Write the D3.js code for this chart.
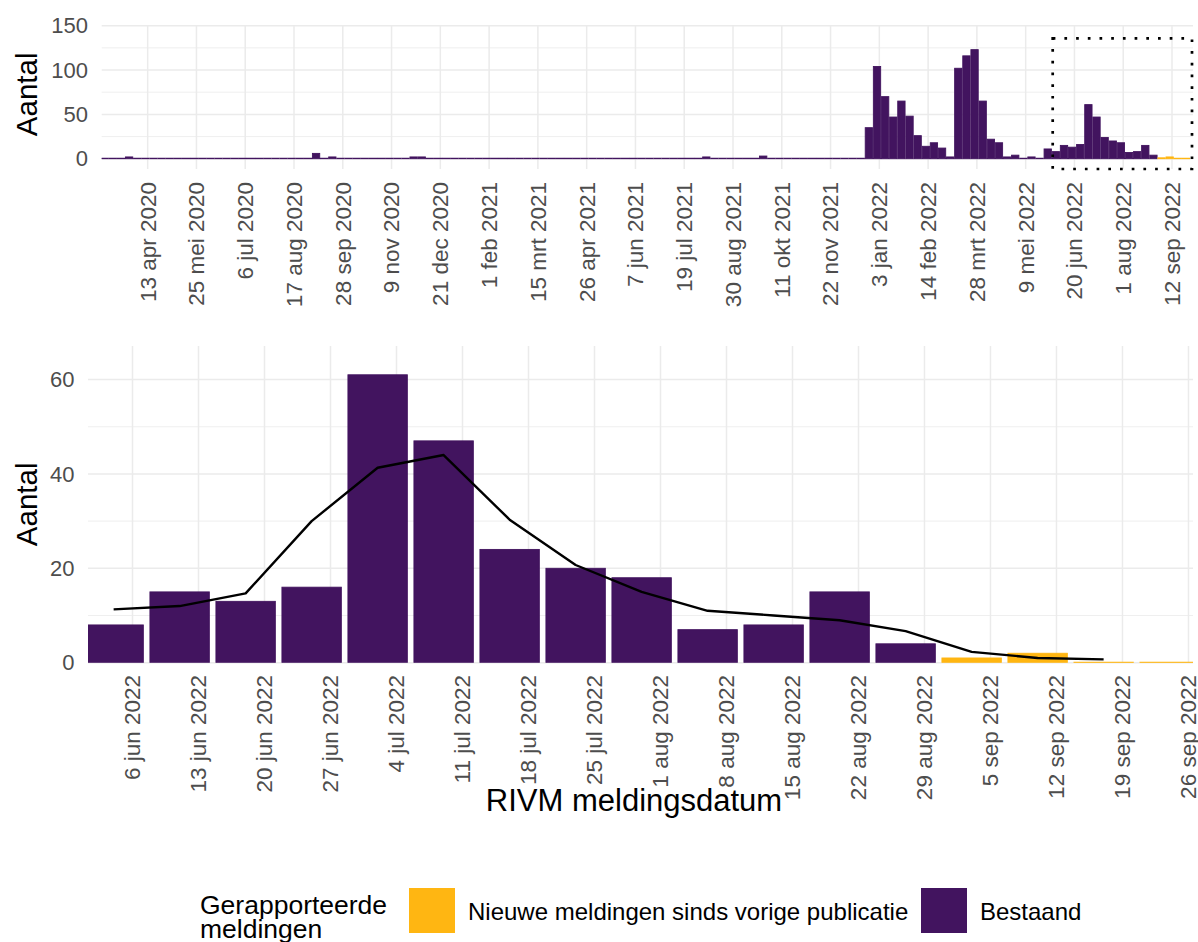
<!DOCTYPE html>
<html>
<head>
<meta charset="utf-8">
<script src="https://cdn.jsdelivr.net/npm/d3@7"></script>
<style>
body { margin: 0; background: #fff; }
svg { display: block; font-family: "Liberation Sans", Arial, sans-serif; }
</style>
</head>
<body>
<svg width="1198" height="942"></svg>
<script>
var purple = '#42145F';
var yellow = '#FFB612';
var gridColor = '#EBEBEB';
var tickColor = '#4D4D4D';

// weekly counts, bars sit on the Saturday of each week
var firstWeek = '2020-03-07';
var bestaand2020 = [
	0, 0, 0, 2,
	0, 0, 0, 0,
	0, 0, 0, 0, 0,
	0, 0, 0, 0,
	0, 0, 0, 0,
	0, 0, 0, 0, 0,
	6, 0, 2, 0,
	0, 0, 0, 0, 0,
	0, 0, 0, 2,
	2, 0, 0, 0
];
var bestaand2021 = [
	0, 0, 0, 0, 0,
	0, 0, 0, 0,
	0, 0, 0, 0,
	0, 0, 0, 0,
	0, 0, 0, 0, 0,
	0, 0, 0, 0,
	0, 0, 0, 0, 0,
	2, 0, 0, 0,
	0, 0, 0, 3,
	0, 0, 0, 0, 0,
	0, 0, 0, 0,
	0, 0, 0, 35
];
var bestaand2022 = [
	104, 70, 47, 65, 48,
	26, 14, 18, 12,
	2, 102, 116, 123,
	65, 22, 18, 2, 4,
	0, 2, 0, 11,
	8, 15, 13, 16,
	61, 47, 24, 20, 18,
	7, 8, 15, 4
];
var nieuw2022 = [1, 2, 0, 0];

// lopend gemiddelde in the lower panel, starting at the first visible week
var movingStart = '2022-06-04';
var movingAvg = [11.3, 12, 14.7, 30, 41.3, 44, 30.3, 20.7, 15, 11, 10, 9, 6.7, 2.3, 1, 0.7];

var topTicks = ['2020-04-13', '2020-05-25', '2020-07-06', '2020-08-17', '2020-09-28', '2020-11-09',
	'2020-12-21', '2021-02-01', '2021-03-15', '2021-04-26', '2021-06-07', '2021-07-19', '2021-08-30',
	'2021-10-11', '2021-11-22', '2022-01-03', '2022-02-14', '2022-03-28', '2022-05-09', '2022-06-20',
	'2022-08-01', '2022-09-12'];
var bottomTicks = ['2022-06-06', '2022-06-13', '2022-06-20', '2022-06-27', '2022-07-04', '2022-07-11',
	'2022-07-18', '2022-07-25', '2022-08-01', '2022-08-08', '2022-08-15', '2022-08-22', '2022-08-29',
	'2022-09-05', '2022-09-12', '2022-09-19', '2022-09-26'];
var topYMajor = [0, 50, 100, 150];
var topYMinor = [25, 75, 125];
var botYMajor = [0, 20, 40, 60];
var botYMinor = [10, 30, 50];

var legendLabels = ['Nieuwe meldingen sinds vorige publicatie', 'Bestaand'];

var parse = d3.utcParse('%Y-%m-%d');
var nl = d3.timeFormatLocale({
	dateTime: '%a %e %B %Y %X', date: '%d-%m-%Y', time: '%H:%M:%S', periods: ['AM', 'PM'],
	days: ['zondag', 'maandag', 'dinsdag', 'woensdag', 'donderdag', 'vrijdag', 'zaterdag'],
	shortDays: ['zo', 'ma', 'di', 'wo', 'do', 'vr', 'za'],
	months: ['januari', 'februari', 'maart', 'april', 'mei', 'juni', 'juli', 'augustus', 'september', 'oktober', 'november', 'december'],
	shortMonths: ['jan', 'feb', 'mrt', 'apr', 'mei', 'jun', 'jul', 'aug', 'sep', 'okt', 'nov', 'dec']
});
var fmt = nl.utcFormat('%-d %b %Y');

var start = parse(firstWeek);
var bestaand = bestaand2020.concat(bestaand2021, bestaand2022);
var weeks = [];
bestaand.forEach(function(v, i) {
	weeks.push({date: d3.utcDay.offset(start, 7 * i), value: v, type: 'b'});
});
nieuw2022.forEach(function(v, i) {
	weeks.push({date: d3.utcDay.offset(start, 7 * (bestaand.length + i)), value: v, type: 'n'});
});

var xTop = d3.scaleUtc()
	.domain([new Date(Date.UTC(2020, 2, 4, 10)), new Date(Date.UTC(2022, 8, 30, 2))])
	.range([101.7, 1193]);
var yTop = d3.scaleLinear().domain([-11.6, 150]).range([169, 25.7]);
var xBot = d3.scaleUtc()
	.domain([new Date(Date.UTC(2022, 5, 1, 6, 45)), new Date(Date.UTC(2022, 8, 26, 11, 30))])
	.range([88, 1193]);
var yBot = d3.scaleLinear().domain([0, 67.1]).range([662.7, 346]);

var svg = d3.select('svg');
var defs = svg.append('defs');

function panel(x, y, yMajor, yMinor, ticks, id) {
	var x0 = x.range()[0], x1 = x.range()[1];
	var y0 = y.range()[0], y1 = y.range()[1];
	var g = svg.append('g');
	g.selectAll('line.minor').data(yMinor).enter().append('line')
		.attr('x1', x0).attr('x2', x1)
		.attr('y1', d => y(d)).attr('y2', d => y(d))
		.attr('stroke', gridColor).attr('stroke-width', 0.8);
	g.selectAll('line.major').data(yMajor).enter().append('line')
		.attr('x1', x0).attr('x2', x1)
		.attr('y1', d => y(d)).attr('y2', d => y(d))
		.attr('stroke', gridColor).attr('stroke-width', 1.5);
	g.selectAll('line.vert').data(ticks).enter().append('line')
		.attr('x1', d => x(parse(d))).attr('x2', d => x(parse(d)))
		.attr('y1', y0).attr('y2', y1)
		.attr('stroke', gridColor).attr('stroke-width', 1.5);

	defs.append('clipPath').attr('id', id)
		.append('rect').attr('x', x0).attr('y', y1).attr('width', x1 - x0).attr('height', y0 - y1);

	var bw = (x(d3.utcDay.offset(start, 7)) - x(start)) * 0.9;
	var bars = svg.append('g').attr('clip-path', 'url(#' + id + ')');
	bars.selectAll('rect').data(weeks).enter().append('rect')
		.attr('x', d => x(d.date) - bw / 2)
		.attr('width', bw)
		.attr('y', d => Math.min(y(d.value), y(0) - 0.5))
		.attr('height', d => Math.max(y(0) - y(d.value), 0.5))
		.attr('fill', d => d.type == 'n' ? yellow : purple)
		.attr('stroke', d => d.type == 'n' ? yellow : purple)
		.attr('stroke-width', 0.9);
	return bars;
}

function yLabels(y, values, xr) {
	svg.append('g').selectAll('text').data(values).enter().append('text')
		.attr('x', xr).attr('y', d => y(d)).attr('dy', '0.35em')
		.attr('text-anchor', 'end')
		.attr('font-size', 22).attr('fill', tickColor)
		.text(d => d);
}

function xLabels(x, ticks, yEnd) {
	svg.append('g').selectAll('text').data(ticks).enter().append('text')
		.attr('transform', d => `translate(${x(parse(d))},${yEnd}) rotate(-90)`)
		.attr('dy', '0.35em')
		.attr('text-anchor', 'end')
		.attr('font-size', 22.5).attr('fill', tickColor)
		.text(d => fmt(parse(d)));
}

function yTitle(yc) {
	svg.append('text')
		.attr('transform', `translate(37,${yc}) rotate(-90)`)
		.attr('text-anchor', 'middle')
		.attr('font-size', 29.5).attr('fill', '#000')
		.text('Aantal');
}

// top overview panel
panel(xTop, yTop, topYMajor, topYMinor, topTicks, 'clipTop');
yLabels(yTop, topYMajor, 88);
xLabels(xTop, topTicks, 182);
yTitle((yTop.range()[0] + yTop.range()[1]) / 2 - 3);

// dotted box showing the zoomed range
var bx0 = xTop(xBot.domain()[0]);
var bx1 = xTop.range()[1] - 1;
svg.append('rect')
	.attr('x', bx0).attr('y', yTop(135.8))
	.attr('width', bx1 - bx0).attr('height', yTop(-11.6) - yTop(135.8))
	.attr('fill', 'none')
	.attr('stroke', '#000').attr('stroke-width', 2.7)
	.attr('stroke-dasharray', '2.7 9');

// lower zoomed panel
panel(xBot, yBot, botYMajor, botYMinor, bottomTicks, 'clipBot');
yLabels(yBot, botYMajor, 74.5);
xLabels(xBot, bottomTicks, 675);
yTitle((yBot.range()[0] + yBot.range()[1]) / 2);

var mStart = parse(movingStart);
var line = d3.line()
	.x((d, i) => xBot(d3.utcDay.offset(mStart, 7 * i)))
	.y(d => yBot(d));
svg.append('path')
	.datum(movingAvg)
	.attr('d', line)
	.attr('fill', 'none')
	.attr('stroke', '#000')
	.attr('stroke-width', 2.4)
	.attr('stroke-linejoin', 'round');

svg.append('text')
	.attr('x', 634)
	.attr('y', 811)
	.attr('text-anchor', 'middle')
	.attr('font-size', 31).attr('fill', '#000')
	.text('RIVM meldingsdatum');

// legend
var legend = svg.append('g');
legend.append('text')
	.attr('x', 200).attr('y', 914)
	.attr('font-size', 26.5).attr('fill', '#000')
	.text('Gerapporteerde');
legend.append('text')
	.attr('x', 200).attr('y', 938)
	.attr('font-size', 26.5).attr('fill', '#000')
	.text('meldingen');
var keyX = [409, 921];
var keyColors = [yellow, purple];
legend.selectAll('rect.key').data(legendLabels).enter().append('rect')
	.attr('x', (d, i) => keyX[i]).attr('y', 888)
	.attr('width', 46).attr('height', 45)
	.attr('fill', (d, i) => keyColors[i]);
legend.selectAll('text.lab').data(legendLabels).enter().append('text')
	.attr('x', (d, i) => keyX[i] + 59).attr('y', 919.5)
	.attr('font-size', 24).attr('fill', '#000')
	.text(d => d);
</script>
</body>
</html>
